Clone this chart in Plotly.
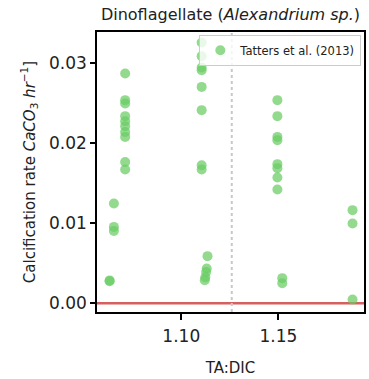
import plotly.graph_objects as go

# Data (TA:DIC vs calcification rate)
ta_dic = [
    1.0711, 1.0711, 1.0711, 1.0711, 1.0711, 1.0711, 1.0711, 1.0711, 1.0711, 1.0711,
    1.0653, 1.0653, 1.0653,
    1.0631, 1.0631,
    1.1105, 1.1105, 1.1105, 1.1105, 1.1105, 1.1105, 1.1105, 1.1105,
    1.1135, 1.1131, 1.1128, 1.1124, 1.1121,
    1.1495, 1.1495, 1.1495, 1.1495, 1.1495, 1.1495, 1.1495, 1.1495,
    1.1520, 1.1520,
    1.1882, 1.1882, 1.1882,
]
calc_rate = [
    0.02871, 0.02538, 0.02496, 0.02338, 0.02275, 0.02213, 0.02141, 0.02079, 0.01766, 0.01671,
    0.01246, 0.00954, 0.00904,
    0.00285, 0.00275,
    0.03259, 0.03088, 0.02946, 0.02913, 0.02704, 0.02413, 0.01725, 0.01671,
    0.00588, 0.00434, 0.00390, 0.00325, 0.00288,
    0.02538, 0.02338, 0.02079, 0.02038, 0.01738, 0.01688, 0.01571, 0.01421,
    0.00313, 0.00250,
    0.01163, 0.00996, 0.00046,
]
series_name = "Tatters et al. (2013)"
threshold_x = 1.126
zero_line_y = 0.0
x_range = [1.0566, 1.1941]
y_range = [-0.0011, 0.0339]
y_ticks = [0.00, 0.01, 0.02, 0.03]
x_ticks = [1.10, 1.15]

FONT = "DejaVu Sans"

fig = go.Figure()

# zero line
fig.add_trace(go.Scatter(
    x=x_range, y=[zero_line_y, zero_line_y], mode="lines",
    line=dict(color="#D65F5F", width=2.5), showlegend=False, hoverinfo="skip",
))
# vertical dotted line
fig.add_trace(go.Scatter(
    x=[threshold_x, threshold_x], y=y_range, mode="lines",
    line=dict(color="#c8c8c8", width=2, dash="dot"), showlegend=False, hoverinfo="skip",
))
fig.add_trace(go.Scatter(
    x=ta_dic, y=calc_rate, mode="markers", name=series_name,
    marker=dict(color="#6ACC64", size=10, opacity=0.72, line=dict(width=0)),
))

fig.update_layout(
    width=369, height=379,
    margin=dict(l=97, r=3, t=32, b=67),
    plot_bgcolor="white", paper_bgcolor="white",
    font=dict(family=FONT, color="black"),
    title=dict(
        text="Dinoflagellate (<i>Alexandrium sp.</i>)",
        x=0.5, xref="paper", xanchor="center",
        y=1 - 14 / 379, yref="container", yanchor="middle",
        font=dict(size=16, family=FONT, color="#222"),
    ),
    legend=dict(
        x=0.99, y=0.99, xanchor="right", yanchor="top",
        bgcolor="rgba(255,255,255,0.8)", bordercolor="#cccccc", borderwidth=1,
        font=dict(size=11.5, family=FONT, color="#222"),
        tracegroupgap=0,
    ),
    showlegend=True,
)
fig.update_xaxes(
    range=x_range, tickvals=x_ticks, ticktext=[f"{v:.2f}" for v in x_ticks],
    showgrid=False, zeroline=False,
    showline=True, linecolor="black", linewidth=1.5, mirror=True,
    ticks="outside", ticklen=6, tickwidth=1.5, tickcolor="black",
    ticklabelstandoff=2,
    tickfont=dict(size=17, family=FONT, color="#222"),
    title=dict(text="TA:DIC", font=dict(size=15, family=FONT, color="#222"), standoff=17),
)
fig.update_yaxes(
    range=y_range, tickvals=y_ticks, ticktext=[f"{v:.2f}" for v in y_ticks],
    showgrid=False, zeroline=False,
    showline=True, linecolor="black", linewidth=1.5, mirror=True,
    ticks="outside", ticklen=5, tickwidth=1.5, tickcolor="black",
    tickfont=dict(size=17, family=FONT, color="#222"),
    title=dict(
        text="Calcification rate <i>CaCO</i><sub>3</sub> <i>hr</i><sup>\u22121</sup>]",
        font=dict(size=15, family=FONT, color="#222"), standoff=10,
    ),
)

fig.write_html("out.html")
